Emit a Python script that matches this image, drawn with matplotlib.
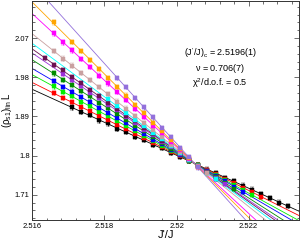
import numpy as np
import matplotlib
matplotlib.use("Agg")
import matplotlib.pyplot as plt
from matplotlib.ticker import MultipleLocator, FuncFormatter

plt.rcParams['font.family'] = ['Liberation Sans', 'DejaVu Sans']
plt.rcParams['mathtext.fontset'] = 'custom'
plt.rcParams['mathtext.rm'] = 'Liberation Sans'
plt.rcParams['mathtext.it'] = 'Liberation Sans'
plt.rcParams['mathtext.default'] = 'regular'

# J'/J grid of simulated couplings (index 0 -> 2.51635)
j_grid = [2.51635, 2.51660, 2.51685, 2.51710, 2.51735, 2.51760, 2.51785, 2.51810,
          2.51835, 2.51860, 2.51885, 2.51910, 2.51935, 2.51960, 2.51985, 2.52010,
          2.52035, 2.52060, 2.52085, 2.52110, 2.52135, 2.52160, 2.52185, 2.52210,
          2.52235, 2.52260, 2.52285, 2.52310]

colors = ['#000000', '#ff0000', '#00ee00', '#0000ff', '#008c00', '#9b30d9',
          '#6a1050', '#00ffff', '#c9a0a0', '#ff00ff', '#ffa500', '#9370db']

start_index = [3, 1, 1, 1, 1, 2, 0, 7, 1, 1, 1, 8]

y_black = [1.911, 1.900, 1.893, 1.881, 1.874, 1.862, 1.855, 1.843, 1.836, 1.824,
           1.817, 1.806, 1.798, 1.787, 1.779, 1.768, 1.760, 1.749, 1.741, 1.731,
           1.722, 1.711, 1.703, 1.692, 1.684]
y_red = [1.944, 1.932, 1.923, 1.911, 1.903, 1.890, 1.882, 1.870, 1.861, 1.849,
         1.841, 1.829, 1.820, 1.808, 1.799, 1.788, 1.778, 1.767, 1.758, 1.746,
         1.737, 1.726, 1.716, 1.706]
y_lime = [1.959, 1.946, 1.937, 1.924, 1.914, 1.901, 1.891, 1.879, 1.869, 1.856,
          1.846, 1.833, 1.823, 1.811, 1.801, 1.788, 1.778, 1.765, 1.755, 1.743,
          1.733, 1.720, 1.710]
y_blue = [1.972, 1.958, 1.947, 1.934, 1.923, 1.910, 1.899, 1.886, 1.875, 1.861,
          1.850, 1.837, 1.826, 1.813, 1.802, 1.789, 1.777, 1.765, 1.754, 1.741,
          1.729, 1.717]
y_dgreen = [1.989, 1.974, 1.962, 1.948, 1.936, 1.921, 1.910, 1.895, 1.883, 1.869,
            1.857, 1.842, 1.830, 1.816, 1.804, 1.789, 1.777, 1.763, 1.751, 1.737,
            1.724]
y_violet = [1.988, 1.973, 1.960, 1.945, 1.932, 1.917, 1.904, 1.888, 1.876, 1.860,
            1.847, 1.832, 1.819, 1.804, 1.791, 1.776, 1.763, 1.748, 1.735]
y_maroon = [2.025, 2.009, 1.996, 1.980, 1.967, 1.951, 1.937, 1.921, 1.908, 1.892,
            1.879, 1.863, 1.850, 1.834, 1.821, 1.805, 1.791, 1.776, 1.762, 1.747]
y_cyan = [1.930, 1.913, 1.899, 1.882, 1.868, 1.852, 1.838, 1.821, 1.807, 1.791,
          1.776, 1.760, 1.746]
y_rosy = [2.041, 2.023, 2.007, 1.990, 1.974, 1.957, 1.941, 1.924, 1.908, 1.891,
          1.875, 1.858, 1.842, 1.825, 1.809, 1.792, 1.776, 1.759]
y_magenta = [2.081, 2.060, 2.042, 2.022, 2.004, 1.984, 1.966, 1.946, 1.928, 1.908,
             1.889, 1.869, 1.851, 1.831, 1.813, 1.793, 1.775]
y_orange = [2.106, None, 2.061, 2.040, 2.020, 1.999, 1.979, 1.958, 1.938, 1.917,
            1.897, 1.876, 1.856, 1.835, 1.815, 1.794, 1.774]
y_purple = [1.979, 1.957, 1.933, 1.911, 1.888, 1.864, 1.842, 1.818, 1.796, 1.773]

series_y = [y_black, y_red, y_lime, y_blue, y_dgreen, y_violet, y_maroon,
            y_cyan, y_rosy, y_magenta, y_orange, y_purple]
errors = [0.005, 0.005, 0.005, 0.005, 0.005, 0.005, 0.005, 0.005, 0.005,
          0.005, 0.005, 0.005]

x_limits = (2.516, 2.5234)
y_limits = (1.652, 2.156)

fig = plt.figure(figsize=(3.03, 2.41), dpi=100)
ax = fig.add_axes([0.107, 0.087, 0.88, 0.91])

for c, s0, ys, e in zip(colors, start_index, series_y, errors):
    xs = np.array(j_grid[s0:s0 + len(ys)], dtype=float)
    yv = np.array([np.nan if v is None else v for v in ys], dtype=float)
    m = ~np.isnan(yv)
    xs, yv = xs[m], yv[m]
    p = np.polyfit(xs, yv, 1)
    xl = np.array(x_limits)
    ax.plot(xl, np.polyval(p, xl), color=c, lw=0.6, zorder=1)
    ax.errorbar(xs, yv, yerr=e, fmt='s', color=c, ms=2.8, mec=c, mew=0.3,
                elinewidth=0.6, capsize=1.2, capthick=0.6, zorder=2)

ax.set_xlim(*x_limits)
ax.set_ylim(*y_limits)
fmt = FuncFormatter(lambda v, pos: '%g' % round(v, 4))
ax.xaxis.set_major_locator(MultipleLocator(0.002))
ax.xaxis.set_minor_locator(MultipleLocator(0.0004))
ax.yaxis.set_major_locator(MultipleLocator(0.09))
ax.yaxis.set_minor_locator(MultipleLocator(0.018))
ax.xaxis.set_major_formatter(fmt)
ax.yaxis.set_major_formatter(fmt)
ax.tick_params(which='both', direction='in', top=True, right=True,
               labelsize=5.5, width=0.6, color='#555555', pad=2)
ax.tick_params(which='major', length=3.5)
ax.tick_params(which='minor', length=1.8)
for sp in ax.spines.values():
    sp.set_linewidth(0.7)
    sp.set_color('#333333')

ax.set_xlabel("J'/J", fontsize=8, labelpad=0)
ax.set_ylabel(r'$(\rho_{s1})_{lin}\,L$', fontsize=7)
ax.yaxis.set_label_coords(-0.068, 0.5)

fig.text(0.726, 0.780, r"$(J'/J)_c$ = 2.5196(1)", fontsize=6.5, ha='center', va='center')
fig.text(0.726, 0.714, r"$\nu$ = 0.706(7)", fontsize=6.5, ha='center', va='center')
fig.text(0.726, 0.656, r"$\chi^2$/d.o.f. = 0.5", fontsize=6.5, ha='center', va='center')

fig.savefig('out.png', dpi=100)
